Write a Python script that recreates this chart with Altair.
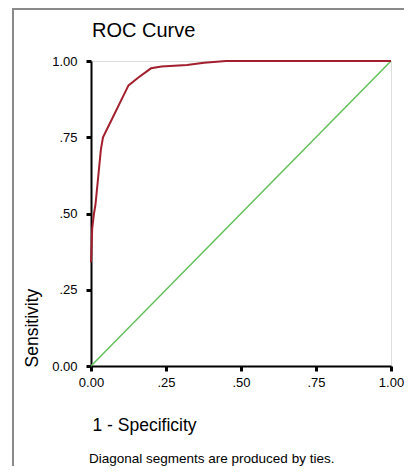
import altair as alt
import pandas as pd

# ROC curve points
fpr = [0.0, 0.004, 0.01, 0.015, 0.025, 0.033, 0.04, 0.07, 0.10, 0.125, 0.158, 0.20, 0.235, 0.32, 0.377, 0.45, 1.0]
tpr = [0.34, 0.45, 0.50, 0.53, 0.63, 0.71, 0.75, 0.81, 0.87, 0.92, 0.946, 0.976, 0.982, 0.987, 0.994, 1.0, 1.0]
ref_x = [0.0, 1.0]
ref_y = [0.0, 1.0]
tick_vals = [0, 0.25, 0.5, 0.75, 1.0]

title_text = "ROC Curve"
x_title = "1 - Specificity"
y_title = "Sensitivity"
note_text = "Diagonal segments are produced by ties."

curve = pd.DataFrame({"x": fpr, "y": tpr, "i": list(range(len(fpr)))})
diag = pd.DataFrame({"x": ref_x, "y": ref_y, "i": [0, 1]})

label_expr = "datum.value == 0 || datum.value == 1 ? format(datum.value, '.2f') : slice(format(datum.value, '.2f'), 1)"

FONT = "Liberation Sans"

xs = alt.Scale(domain=[0, 1], nice=False, zero=False)
ys = alt.Scale(domain=[0, 1], nice=False, zero=False)

x_axis = alt.Axis(values=tick_vals, labelExpr=label_expr, title=x_title, grid=False,
                  domainColor="black", domainWidth=2, tickColor="black", tickWidth=3, tickSize=5,
                  labelPadding=5, labelFontSize=13, labelColor="black", labelFont=FONT,
                  labelFlush=False, labelOverlap=False,
                  titleX=1, titleY=59, titleAlign="left", titleBaseline="middle",
                  titleFont=FONT, titleFontSize=17.5, titleFontWeight="normal",
                  titleColor="black")
y_axis = alt.Axis(values=tick_vals, labelExpr=label_expr, title=y_title, grid=False,
                  domainColor="black", domainWidth=2, tickColor="black", tickWidth=3, tickSize=5,
                  labelPadding=9, labelFontSize=13, labelColor="black", labelFont=FONT,
                  labelFlush=False, labelOverlap=False,
                  titleX=-59, titleY=306, titleAngle=270, titleAlign="left", titleBaseline="middle",
                  titleFont=FONT, titleFontSize=17.5, titleFontWeight="normal",
                  titleColor="black")

diag_line = alt.Chart(diag).mark_line(color="#62c05a", strokeWidth=1.5).encode(
    x=alt.X("x:Q", scale=xs, axis=x_axis),
    y=alt.Y("y:Q", scale=ys, axis=y_axis),
    order="i:Q",
)
roc_line = alt.Chart(curve).mark_line(color="#a31f2e", strokeWidth=2).encode(
    x=alt.X("x:Q", scale=xs),
    y=alt.Y("y:Q", scale=ys),
    order="i:Q",
)

title_mark = alt.Chart(pd.DataFrame({"t": [title_text]})).mark_text(
    align="left", baseline="middle", font=FONT, fontSize=20, color="black"
).encode(text="t:N", x=alt.value(1), y=alt.value(-30))

note_mark = alt.Chart(pd.DataFrame({"t": [note_text]})).mark_text(
    align="left", baseline="middle", font=FONT, fontSize=13.5, color="black"
).encode(text="t:N", x=alt.value(-2), y=alt.value(398))

frame_left = alt.Chart(pd.DataFrame({"a": [0]})).mark_rule(color="#8a8a8a", strokeWidth=2).encode(
    x=alt.value(-78), y=alt.value(-52), y2=alt.value(420))
frame_top = alt.Chart(pd.DataFrame({"a": [0]})).mark_rule(color="#8a8a8a", strokeWidth=2).encode(
    x=alt.value(-79), x2=alt.value(330), y=alt.value(-52))

chart = alt.layer(frame_left, frame_top, diag_line, roc_line, title_mark, note_mark).properties(
    width=300, height=305,
    padding={"left": 83, "top": 53, "right": 13, "bottom": 100},
    autosize=alt.AutoSizeParams(type="none"),
).configure_view(stroke="black", strokeWidth=2).configure(background="white")

chart.save("out.html", embed_options={"renderer": "svg", "actions": False})
